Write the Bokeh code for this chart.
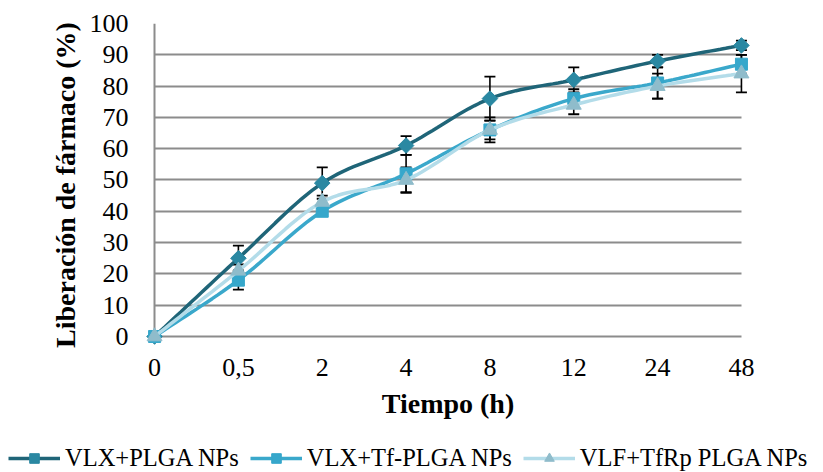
import math
from bokeh.plotting import figure
from bokeh.models import (Range1d, FixedTicker, Whisker, TeeHead, ColumnDataSource,
                          Legend, LegendItem, Grid)
from bokeh.embed import file_html
from bokeh.resources import INLINE

# ---- data ----
categories = ["0", "0,5", "2", "4", "8", "12", "24", "48"]
y_ticks = [0, 10, 20, 30, 40, 50, 60, 70, 80, 90, 100]
series_names = ["VLX+PLGA NPs", "VLX+Tf-PLGA NPs", "VLF+TfRp PLGA NPs"]
vlx_plga = [0, 25, 49, 61, 76, 82, 88, 93]
vlx_plga_err = [0, 4, 5, 3, 7, 4, 2, 1.5]
vlx_tf = [0, 18, 40, 52, 66, 76, 81, 87]
vlx_tf_err = [0, 3, 1, 6, 3, 3, 5, 3]
vlf_tfrp = [0, 21, 43, 50, 66, 74, 80, 84]
vlf_tfrp_err = [0, 2, 2, 4, 4, 3, 4, 6]

FONT = "Liberation Serif"
line_colors = ["#1f6578", "#3aa8cb", "#b3dce9"]
marker_colors = ["#2a88a2", "#36a7cb", "#8fbccb"]
markers = ["square", "square", "triangle"]
marker_angles = [math.pi / 4, 0, 0]
marker_sizes = [11, 12, 15]


def smooth(ys, steps=16):
    """Catmull-Rom smoothing (like Excel's smoothed line) through the given points."""
    n = len(ys)
    xs_out, ys_out = [], []
    for i in range(n - 1):
        p1 = ys[i]
        p2 = ys[i + 1]
        p0 = ys[i - 1] if i > 0 else 2 * p1 - p2
        p3 = ys[i + 2] if i + 2 < n else 2 * p2 - p1
        for k in range(steps + (1 if i == n - 2 else 0)):
            t = k / steps
            t2, t3 = t * t, t * t * t
            y = 0.5 * ((2 * p1) + (-p0 + p2) * t + (2 * p0 - 5 * p1 + 4 * p2 - p3) * t2
                       + (-p0 + 3 * p1 - 3 * p2 + p3) * t3)
            xs_out.append(i + t)
            ys_out.append(y)
    return xs_out, ys_out


pad_x = 0.12
pad_y = 3.2
p = figure(width=823, height=436, output_backend="svg", toolbar_location=None,
           x_range=Range1d(-pad_x, len(categories) - 1 + pad_x),
           y_range=Range1d(-pad_y, 100),
           min_border_left=144, min_border_right=72, min_border_top=23, min_border_bottom=90)
p.outline_line_color = None
p.background_fill_color = "white"
p.border_fill_color = "white"

# grid: horizontal lines between first and last category, vertical axis line at x=0
p.ygrid.ticker = FixedTicker(ticks=y_ticks)
p.ygrid.grid_line_color = "#8c8c8c"
p.ygrid.grid_line_width = 2
p.xgrid.ticker = FixedTicker(ticks=[0])
p.xgrid.grid_line_color = "#8c8c8c"
p.xgrid.grid_line_width = 2
if "cross_bounds" in Grid.properties():
    p.ygrid.cross_bounds = (0, len(categories) - 1)
    p.xgrid.cross_bounds = (y_ticks[0], y_ticks[-1])

# axes
xs_idx = list(range(len(categories)))
p.xaxis.ticker = FixedTicker(ticks=xs_idx)
p.xaxis.major_label_overrides = {i: c for i, c in enumerate(categories)}
p.xaxis.axis_line_color = None
p.xaxis.major_tick_line_color = None
p.xaxis.minor_tick_line_color = None
p.xaxis.major_tick_out = 0
p.xaxis.major_tick_in = 0
p.xaxis.major_label_standoff = 12
p.xaxis.axis_label = "Tiempo (h)"
p.xaxis.axis_label_standoff = 9

p.yaxis.ticker = FixedTicker(ticks=y_ticks)
p.yaxis.axis_line_color = None
p.yaxis.major_tick_line_color = None
p.yaxis.minor_tick_line_color = None
p.yaxis.major_tick_out = 0
p.yaxis.major_tick_in = 0
p.yaxis.major_label_standoff = 16
p.yaxis.axis_label = "Liberación de fármaco (%)"
p.yaxis.axis_label_standoff = 6

for ax in (p.xaxis, p.yaxis):
    ax.major_label_text_font = FONT
    ax.major_label_text_font_size = "26px"
    ax.major_label_text_color = "black"
    ax.axis_label_text_font = FONT
    ax.axis_label_text_font_size = "28px"
    ax.axis_label_text_font_style = "bold"
    ax.axis_label_text_color = "black"

all_vals = [vlx_plga, vlx_tf, vlf_tfrp]
all_errs = [vlx_plga_err, vlx_tf_err, vlf_tfrp_err]

# error bars
for vals, errs in zip(all_vals, all_errs):
    src = ColumnDataSource(dict(x=xs_idx,
                                upper=[v + e for v, e in zip(vals, errs)],
                                lower=[v - e for v, e in zip(vals, errs)]))
    w = Whisker(base="x", upper="upper", lower="lower", source=src,
                line_color="black", line_width=1.6,
                upper_head=TeeHead(size=11, line_color="black", line_width=1.8),
                lower_head=TeeHead(size=11, line_color="black", line_width=1.8))
    p.add_layout(w)

for vals, lc, mc, mk, ang, ms in zip(all_vals, line_colors, marker_colors,
                                     markers, marker_angles, marker_sizes):
    sx, sy = smooth(vals)
    p.line(sx, sy, line_color=lc, line_width=3.5)
    p.scatter(xs_idx, vals, marker=mk, angle=ang, size=ms, fill_color=mc, line_color=mc)

# legend strip below the chart (separate root so its frame spans the full width)
leg = figure(width=823, height=36, output_backend="svg", toolbar_location=None,
             x_range=Range1d(0, 1), y_range=Range1d(0, 1),
             x_axis_type=None, y_axis_type=None, min_border=0)
leg.outline_line_color = None
leg.xgrid.visible = False
leg.ygrid.visible = False
items = []
for name, lc, mc, mk, ang, ms in zip(series_names, line_colors, marker_colors,
                                     markers, marker_angles, marker_sizes):
    # legend-only renderers, their single point lies outside the visible range
    ln = leg.line([-5, -4], [-5, -4], line_color=lc, line_width=3.5)
    sc = leg.scatter([-5], [-5], marker=mk, angle=ang, size=ms, fill_color=mc, line_color=mc)
    items.append(LegendItem(label=name, renderers=[ln, sc]))
legend = Legend(items=items, orientation="horizontal", location=(8, 0),
                glyph_width=52, glyph_height=24, label_standoff=5, spacing=11,
                padding=0, margin=0, border_line_color=None, background_fill_alpha=0,
                label_text_font=FONT, label_text_font_size="24.5px", label_text_color="black")
leg.add_layout(legend, "center")

open("out.html", "w").write(file_html([p, leg], INLINE))
